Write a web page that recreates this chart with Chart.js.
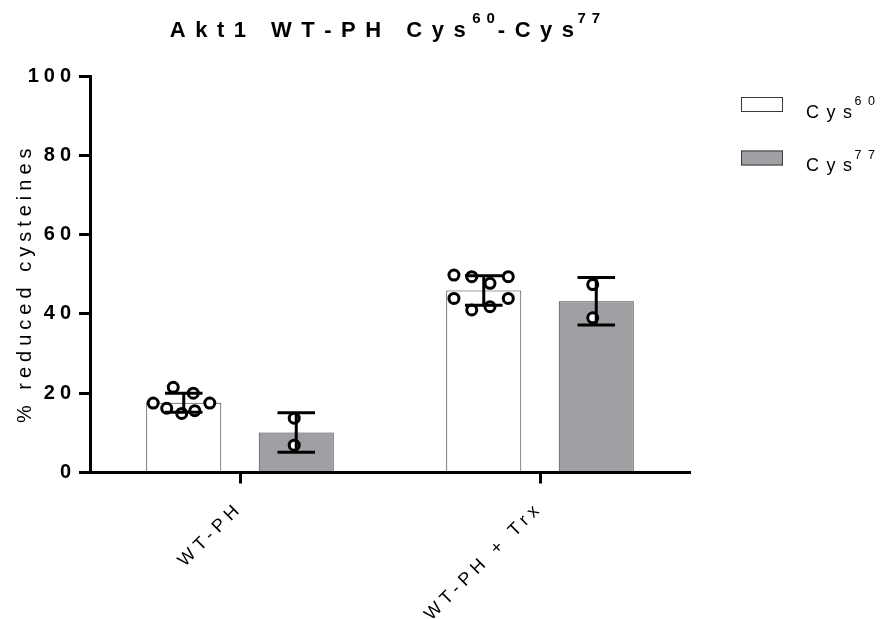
<!DOCTYPE html>
<html><head><meta charset="utf-8">
<script src="https://cdn.jsdelivr.net/npm/chart.js@4.4.0/dist/chart.umd.min.js"></script>
<style>html,body{margin:0;padding:0;background:#fff;overflow:hidden}#wrap{width:880px;height:619px}</style>
</head><body><div id="wrap"><canvas id="c" width="880" height="619"></canvas></div>
<script>
// ---- data ----
const categories = ['WT-PH', 'WT-PH + Trx'];
const seriesBase = ['Cys', 'Cys'];
const seriesSup = ['60', '77'];
const cys60Mean = [17.6, 45.9];
const cys60SD = [2.4, 3.7];
const cys77Mean = [10.1, 43.2];
const cys77SD = [5.0, 6.0];
const cys60PointsWT = [21.5, 20.0, 17.5, 16.2, 14.9, 15.6, 17.5];
const cys60PointsTrx = [49.8, 49.4, 47.7, 49.4, 43.9, 41.0, 41.8, 43.9];
const cys77PointsWT = [13.7, 6.9];
const cys77PointsTrx = [47.4, 39.0];
const yTicks = [0, 20, 40, 60, 80, 100];
const titleMain = 'Akt1 WT-PH Cys';
const titleSup1 = '60';
const titleMid = '-Cys';
const titleSup2 = '77';
const yTitle = '% reduced cysteines';

// ---- layout (not data) ----
const FONT = "'Liberation Sans', Arial, sans-serif";
const CAT_PCT = 0.75, BAR_PCT = 0.667;
const SLOT = CAT_PCT / 2;              // category units per series slot
const BARW = SLOT * BAR_PCT;           // bar width in category units
// horizontal scatter offsets of points, in bar widths
const jit60WT = [-0.14, 0.127, -0.407, -0.227, -0.027, 0.147, 0.347];
const jit60Trx = [-0.397, -0.16, 0.083, 0.327, -0.397, -0.16, 0.083, 0.327];
const jit77WT = [-0.027, -0.027];
const jit77Trx = [-0.047, -0.047];

const slotOffset = s => (s - 0.5) * SLOT;
function barData(means, s) { return means.map((v, ci) => ({x: ci + slotOffset(s), y: v})); }
function pts(groups, jits, s) {
  const out = [];
  groups.forEach((vals, ci) => vals.forEach((v, k) => out.push({x: ci + slotOffset(s) + jits[ci][k] * BARW, y: v})));
  return out;
}

const errorBars = {
  id: 'errorBars',
  afterDatasetsDraw(chart) {
    const ctx = chart.ctx, ys = chart.scales.y;
    const sets = [[cys60Mean, cys60SD], [cys77Mean, cys77SD]];
    sets.forEach(([m, sd], di) => {
      const meta = chart.getDatasetMeta(di);
      meta.data.forEach((bar, i) => {
        const x = bar.x, half = bar.width / 4;
        const yTop = ys.getPixelForValue(m[i] + sd[i]);
        const yBot = ys.getPixelForValue(m[i] - sd[i]);
        ctx.save();
        ctx.strokeStyle = '#000'; ctx.lineWidth = 3; ctx.lineCap = 'butt';
        ctx.beginPath();
        ctx.moveTo(x, yTop); ctx.lineTo(x, yBot);
        ctx.moveTo(x - half, yTop); ctx.lineTo(x + half, yTop);
        ctx.moveTo(x - half, yBot); ctx.lineTo(x + half, yBot);
        ctx.stroke();
        ctx.restore();
      });
    });
  }
};

function partWidth(ctx, p) {
  ctx.font = p.f;
  let w = 0;
  for (const ch of p.t) w += ctx.measureText(ch).width + p.sp;
  return w;
}
function drawParts(ctx, parts, x, y) {
  parts.forEach(p => {
    x += (p.dx || 0);
    ctx.font = p.f;
    for (const ch of p.t) {
      ctx.fillText(ch, x, y - (p.rise || 0));
      x += ctx.measureText(ch).width + p.sp;
    }
  });
}

const decor = {
  id: 'decor',
  beforeDraw(chart) {
    const wrap = (scale, method, spacing, ty) => {
      if (!scale || scale['_w' + method]) return;
      const orig = scale[method];
      scale[method] = function(a) {
        const c = this.ctx; c.save();
        try { c.letterSpacing = spacing + 'px'; } catch (e) {}
        if (ty) c.translate(0, ty);
        orig.call(this, a);
        c.restore();
      };
      scale['_w' + method] = true;
    };
    wrap(chart.scales.x, 'drawLabels', 5, 0);
    wrap(chart.scales.y, 'drawLabels', 5, 0);
    wrap(chart.scales.y, 'drawTitle', 5, 9);
  },
  afterDraw(chart) {
    const ctx = chart.ctx, ca = chart.chartArea;
    ctx.save();
    ctx.fillStyle = '#000';
    ctx.textBaseline = 'alphabetic';
    ctx.textAlign = 'left';
    const parts = [
      {t: titleMain, f: 'bold 22px ' + FONT, sp: 9.5},
      {t: titleSup1, f: 'bold 15px ' + FONT, sp: 6, rise: 14, dx: -3},
      {t: titleMid, f: 'bold 22px ' + FONT, sp: 9.5, dx: -3},
      {t: titleSup2, f: 'bold 15px ' + FONT, sp: 6, rise: 14, dx: -6}
    ];
    let tw = 0; parts.forEach(p => tw += partWidth(ctx, p) + (p.dx || 0));
    const cx = (ca.left + ca.right) / 2 - 2;
    drawParts(ctx, parts, cx - tw / 2, 36.5);
    chart.data.datasets.slice(0, 2).forEach((ds, i) => {
      const bx = ca.right + 51, by = 97 + i * 53.5;
      ctx.fillStyle = ds.backgroundColor;
      ctx.fillRect(bx, by, 42, 15);
      ctx.strokeStyle = ds.borderColor; ctx.lineWidth = 1;
      ctx.strokeRect(bx + 0.5, by + 0.5, 41, 14);
      ctx.fillStyle = '#000';
      drawParts(ctx, [
        {t: seriesBase[i], f: '18px ' + FONT, sp: 7.5},
        {t: seriesSup[i], f: '12.5px ' + FONT, sp: 6.5, rise: 12.5, dx: -5}
      ], ca.right + 116, 117.5 + i * 53.5);
    });
    ctx.restore();
  }
};

new Chart(document.getElementById('c'), {
  type: 'bar',
  data: {
    labels: categories,
    datasets: [
      {type: 'bar', label: seriesBase[0] + seriesSup[0], xAxisID: 'xs', yAxisID: 'y', data: barData(cys60Mean, 0), grouped: false,
       backgroundColor: '#ffffff', borderColor: '#3a3a3a', borderWidth: 1, categoryPercentage: 1, barPercentage: BAR_PCT, order: 2},
      {type: 'bar', label: seriesBase[1] + seriesSup[1], xAxisID: 'xs', yAxisID: 'y', data: barData(cys77Mean, 1), grouped: false,
       backgroundColor: '#a0a0a4', borderColor: '#3a3a3a', borderWidth: 1, categoryPercentage: 1, barPercentage: BAR_PCT, order: 2},
      {type: 'scatter', label: 'pts60', xAxisID: 'xs', yAxisID: 'y', grouped: false, data: pts([cys60PointsWT, cys60PointsTrx], [jit60WT, jit60Trx], 0),
       pointRadius: 5, pointBorderWidth: 3, pointBackgroundColor: '#fff', pointBorderColor: '#000', showLine: false, order: 1},
      {type: 'scatter', label: 'pts77', xAxisID: 'xs', yAxisID: 'y', grouped: false, data: pts([cys77PointsWT, cys77PointsTrx], [jit77WT, jit77Trx], 1),
       pointRadius: 5, pointBorderWidth: 3, pointBackgroundColor: '#fff', pointBorderColor: '#000', showLine: false, order: 1}
    ]
  },
  options: {
    responsive: false, animation: false, devicePixelRatio: 1,
    layout: {padding: {top: 76, right: 190, left: 0, bottom: 0}},
    plugins: {legend: {display: false}, title: {display: false}, tooltip: {enabled: false}},
    events: [],
    scales: {
      x: {
        type: 'category', offset: true,
        grid: {display: true, offset: false, drawOnChartArea: false, drawTicks: true, tickLength: 11, tickWidth: 3, tickColor: '#000'},
        border: {display: true, color: '#000', width: 3, z: 1},
        ticks: {color: '#000', font: {family: FONT, size: 18}, minRotation: 45, maxRotation: 45, autoSkip: false, padding: 14},
        afterFit: s => { s.height = 146.5; }
      },
      xs: {type: 'linear', display: false, offset: false, min: -0.5, max: 1.5, grid: {offset: false},
        afterBuildTicks: s => { s.ticks = []; }},
      y: {
        min: 0, max: 100,
        afterBuildTicks: s => { s.ticks = yTicks.map(v => ({value: v})); },
        grid: {display: true, drawOnChartArea: false, drawTicks: true, tickLength: 11, tickWidth: 3, tickColor: '#000'},
        border: {display: true, color: '#000', width: 3, z: 1},
        ticks: {color: '#000', font: {family: FONT, size: 20, weight: 'bold'}, padding: 3},
        title: {display: true, text: yTitle, color: '#000', font: {family: FONT, size: 20}, padding: {top: 13, bottom: 0}},
        afterFit: s => { s.width = 90; }
      }
    }
  },
  plugins: [errorBars, decor]
});
</script>
</body></html>
